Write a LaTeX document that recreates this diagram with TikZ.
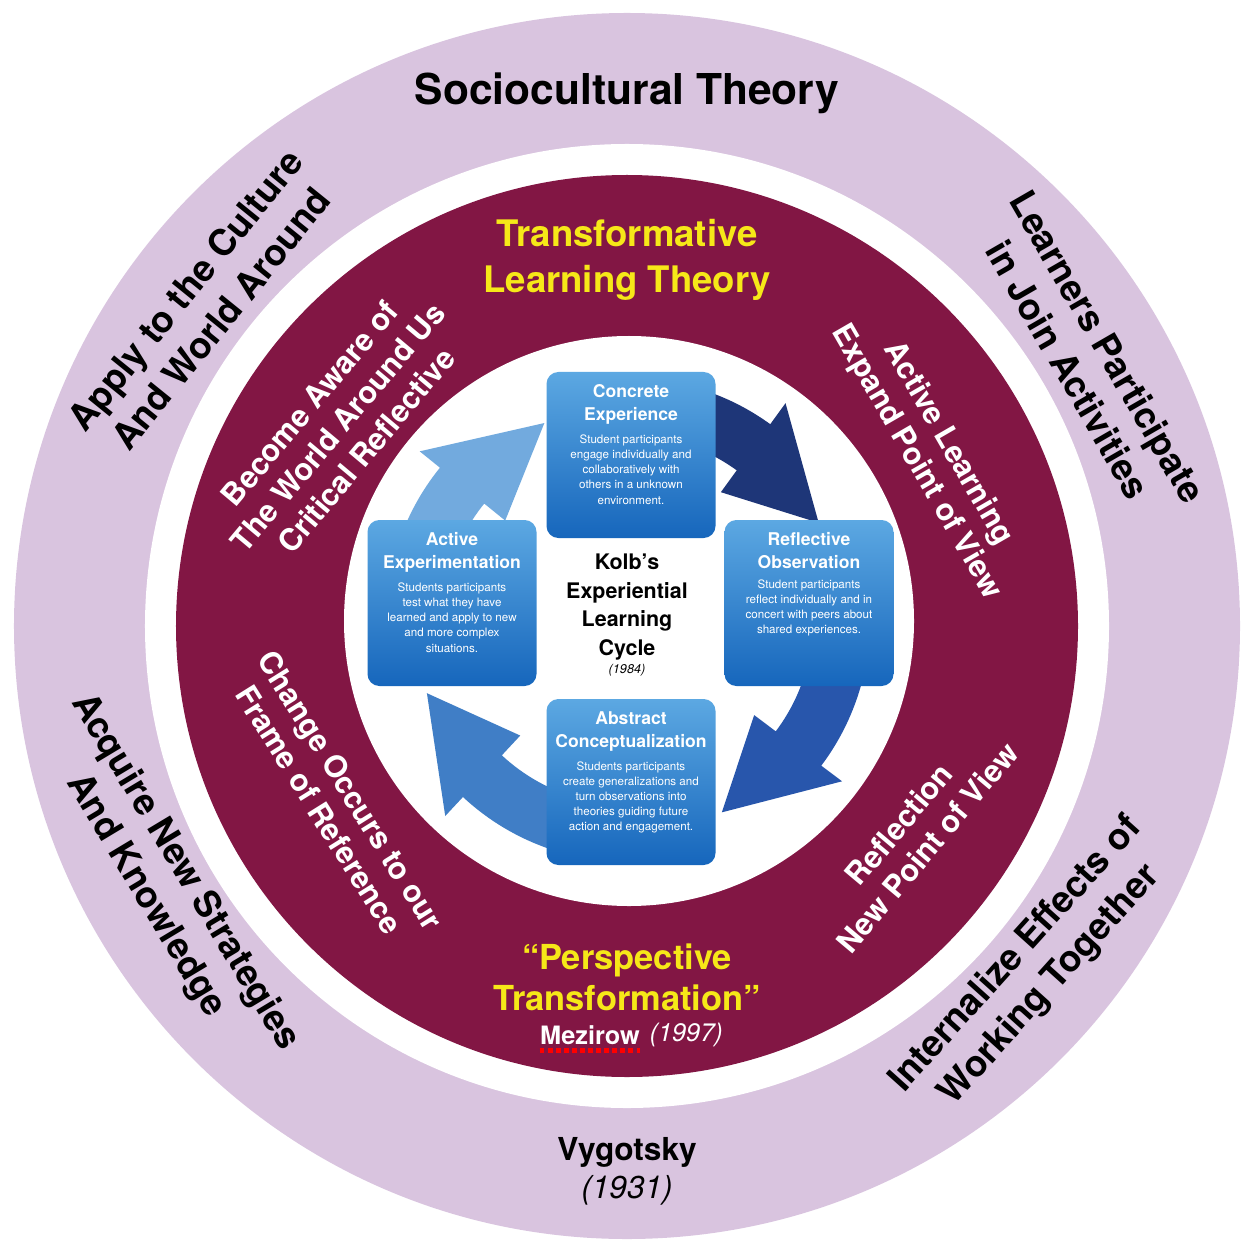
\documentclass[tikz,border=0pt]{standalone}
\usepackage{fontspec}
\setmainfont{TeX Gyre Heros}
\usetikzlibrary{positioning}

\definecolor{lilac}{RGB}{217,196,223}
\definecolor{maroon}{RGB}{130,22,68}
\definecolor{tyellow}{RGB}{246,232,24}
\definecolor{boxtop}{RGB}{92,168,226}
\definecolor{boxbot}{RGB}{22,102,188}
\definecolor{arrnavy}{RGB}{30,54,120}
\definecolor{arrdark}{RGB}{40,86,172}
\definecolor{arrmid}{RGB}{64,126,198}
\definecolor{arrlight}{RGB}{114,170,222}

% start angle, head angle, tip angle, colour
\newcommand{\cyclearrow}[4]{%
  \fill[#4] (#1:2.42) arc[start angle=#1, end angle=#2, radius=2.42]
    -- (#2:2.68) -- (#3:2.14) -- (#2:1.58) -- (#2:1.85)
    arc[start angle=#2, end angle=#1, radius=1.85] -- cycle;}

\tikzset{
  outertxt/.style={font=\fontsize{10.4}{13}\selectfont\bfseries, align=center, text=black},
  ringtxt/.style={font=\fontsize{8.7}{10.5}\selectfont\bfseries, align=center, text=white},
  kbox/.style={rounded corners=3.4pt, minimum width=1.69cm, minimum height=1.66cm,
    top color=boxtop, bottom color=boxbot, inner sep=0pt},
  ktitle/.style={font=\fontsize{5}{6.5}\selectfont\bfseries, text=white, align=center, inner sep=0pt},
  kbody/.style={font=\fontsize{3.3}{4.3}\selectfont, text=white, align=center, inner sep=0pt}
}

\begin{document}
\begin{tikzpicture}
    \useasboundingbox (-6.27,-6.27) rectangle (6.27,6.26);
    % rings
    \fill[lilac] (0,0) circle[radius=6.13];
    \fill[white] (0,0) circle[radius=4.82];
    \fill[maroon] (0,0) circle[radius=4.51];
    \fill[white] (0.02,0.05) circle[radius=2.85];
    %
    \begin{scope}[shift={(0.01,0.06)}]
      \cyclearrow{168}{141}{113}{arrlight}
      \cyclearrow{80}{54}{27}{arrnavy}
      \cyclearrow{-10}{-37}{-64}{arrdark}
      \cyclearrow{-105}{-133}{-160}{arrmid}
    \end{scope}
    %
    \node[kbox] (conc) at (0.04,1.71) {};
    \node[kbox] (refl) at (1.82,0.23) {};
    \node[kbox] (abst) at (0.04,-1.56) {};
    \node[kbox] (actv) at (-1.75,0.23) {};
    \node[ktitle, below=3.6pt of conc.north] (concT) {Concrete\\Experience};
    \node[kbody, below=2.6pt of concT] {Student participants\\engage individually and\\collaboratively with\\others in a unknown\\environment.};
    \node[ktitle, below=3.6pt of refl.north] (reflT) {Reflective\\Observation};
    \node[kbody, below=2.6pt of reflT] {Student participants\\reflect individually and in\\concert with peers about\\shared experiences.};
    \node[ktitle, below=3.6pt of abst.north] (abstT) {Abstract\\Conceptualization};
    \node[kbody, below=2.6pt of abstT] {Students participants\\create generalizations and\\turn observations into\\theories guiding future\\action and engagement.};
    \node[ktitle, below=3.6pt of actv.north] (actvT) {Active\\Experimentation};
    \node[kbody, below=2.6pt of actvT] {Students participants\\test what they have\\learned and apply to new\\and more complex\\situations.};
    %
    \node[font=\fontsize{6.1}{8.2}\selectfont\bfseries, align=center] (kolb) at (0,0.19) {Kolb's\\Experiential\\Learning\\Cycle};
    \node[font=\fontsize{3.6}{4.5}\selectfont\itshape, inner sep=0pt, below=-2.5pt of kolb] (kolbyr) {(1984)};
    %
    \node[font=\fontsize{10.4}{13}\selectfont\bfseries, align=center, text=tyellow] (tlt) at (0,3.66) {Transformative\\Learning Theory};
    \node[ringtxt, rotate=50] (aware) at (-2.89,1.99) {Become Aware of\\The World Around Us\\Critical Reflective};
    \node[ringtxt, rotate=-60] (activ) at (3.05,1.73) {Active Learning\\Expand Point of View};
    \node[ringtxt, rotate=-58] (change) at (-2.92,-1.74) {Change Occurs to our\\Frame of Reference};
    \node[ringtxt, rotate=50] (reflect) at (2.86,-2.10) {Reflection\\New Point of View};
    \node[font=\fontsize{9.8}{11.7}\selectfont\bfseries, align=center, text=tyellow] (persp) at (0,-3.51) {“Perspective\\Transformation”};
    \node[font=\fontsize{7.2}{9}\selectfont\bfseries, text=white, inner sep=0pt] (mez) at (-0.37,-4.09) {Mezirow};
    \node[font=\fontsize{7.2}{9}\selectfont\itshape, text=white, inner sep=0pt, right=2.4pt of mez] (mezyr) {(1997)};
    \draw[red, line width=1.3pt, dash pattern=on 1.4pt off 0.9pt] ([yshift=-1.5pt]mez.south west) -- ([yshift=-1.5pt]mez.south east);
    %
    \node[font=\fontsize{12.1}{14}\selectfont\bfseries] (socio) at (0,5.33) {Sociocultural Theory};
    \node[outertxt, rotate=51] (apply) at (-4.24,3.22) {Apply to the Culture\\And World Around};
    \node[outertxt, rotate=-60] (learn) at (4.61,2.68) {Learners Participate\\in Join Activities};
    \node[outertxt, rotate=-59] (acq) at (-4.62,-2.58) {Acquire New Strategies\\And Knowledge};
    \node[outertxt, rotate=48] (intern) at (4.06,-3.44) {Internalize Effects of\\Working Together};
    \node[font=\fontsize{9}{10.8}\selectfont, align=center] (vyg) at (0,-5.45) {\textbf{Vygotsky}\\\textit{(1931)}};
\end{tikzpicture}
\end{document}
